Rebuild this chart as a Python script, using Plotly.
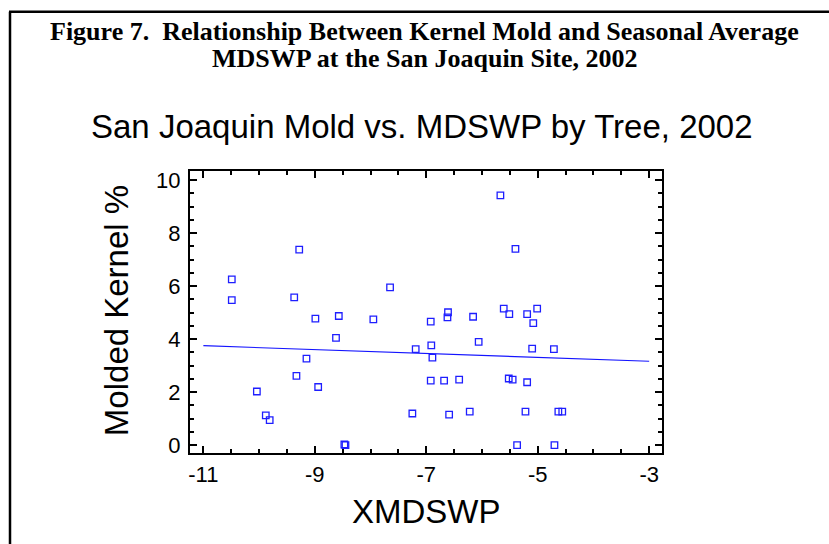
import plotly.graph_objects as go

# ---- data ----
mdswp = [-10.49, -10.49, -9.28, -9.37, -7.65, -8.57, -8.99, -7.95, -8.62, -9.15,
         -9.33, -8.94, -10.04, -9.88, -9.81, -8.47, -8.45, -7.25, -7.19, -5.67,
         -5.40, -6.61, -6.62, -6.92, -6.16, -5.61, -5.51, -5.19, -5.01, -5.08,
         -6.91, -6.89, -6.06, -5.10, -4.71, -6.92, -6.68, -6.41, -5.52, -5.45,
         -5.19, -6.59, -6.22, -5.22, -4.63, -4.56, -5.37, -4.70]
mold_pct = [6.25, 5.47, 7.37, 5.57, 5.95, 4.87, 4.77, 4.74, 4.04, 3.26,
            2.61, 2.19, 2.02, 1.12, 0.94, 0.02, 0.00, 1.19, 3.62, 9.42,
            7.40, 5.01, 4.82, 4.66, 4.84, 5.15, 4.94, 4.94, 5.15, 4.60,
            3.76, 3.30, 3.89, 3.64, 3.62, 2.43, 2.43, 2.47, 2.51, 2.47,
            2.37, 1.15, 1.26, 1.26, 1.26, 1.26, 0.00, 0.00]
fit_x = [-11, -3]
fit_y = [3.75, 3.16]

x_ticks = [-11, -9, -7, -5, -3]
y_ticks = [0, 2, 4, 6, 8, 10]

fig_title_1 = "Figure 7.&nbsp; Relationship Between Kernel Mold and Seasonal Average"
fig_title_2 = "MDSWP at the San Joaquin Site, 2002"
chart_title = "San Joaquin Mold vs. MDSWP by Tree, 2002"
x_title = "XMDSWP"
y_title = "Molded Kernel %"

# ---- layout geometry (pixels) ----
W, H = 829, 544
L, R, T, B = 190, 662, 171, 452.7


def px_x(p):
    return (p - L) / (R - L)


def px_y(p):
    return (B - p) / (B - T)


fig = go.Figure()
fig.add_trace(go.Scatter(
    x=fit_x, y=fit_y, mode="lines",
    line=dict(color="rgb(20,20,255)", width=1.1),
    hoverinfo="skip", showlegend=False))
fig.add_trace(go.Scatter(
    x=mdswp, y=mold_pct, mode="markers",
    marker=dict(symbol="square-open", size=6.5, color="rgb(30,30,255)",
                line=dict(width=1.3, color="rgb(30,30,255)")),
    showlegend=False))

axis_common = dict(
    showgrid=False, zeroline=False,
    showline=True, linecolor="black", linewidth=2, mirror="allticks",
    ticks="inside", ticklen=7, tickwidth=1.5, tickcolor="black",
    tickfont=dict(family="Liberation Sans, Arial", size=22, color="black"),
)

fig.update_xaxes(
    range=[-11.24, -2.77], tickmode="array", tickvals=x_ticks,
    ticktext=[str(v) for v in x_ticks],
    minor=dict(tick0=-11, dtick=0.5, ticks="inside", ticklen=4,
               tickwidth=1.5, tickcolor="black", showgrid=False),
    ticklabelstandoff=1,
    **axis_common)
fig.update_yaxes(
    range=[-0.30, 10.34], tickmode="array", tickvals=y_ticks,
    ticktext=[str(v) for v in y_ticks],
    minor=dict(tick0=0, dtick=0.5, ticks="inside", ticklen=4,
               tickwidth=1.5, tickcolor="black", showgrid=False),
    ticklabelstandoff=3,
    **axis_common)

annotations = [
    dict(text="<b>" + fig_title_1 + "</b>", x=px_x(424), y=px_y(31.5),
         font=dict(family="Liberation Serif, Times New Roman", size=26, color="black")),
    dict(text="<b>" + fig_title_2 + "</b>", x=px_x(424), y=px_y(58.5),
         font=dict(family="Liberation Serif, Times New Roman", size=26, color="black")),
    dict(text=chart_title, x=px_x(422), y=px_y(126.5),
         font=dict(family="Liberation Sans, Arial", size=33, color="black")),
    dict(text=x_title, x=px_x(426), y=px_y(511),
         font=dict(family="Liberation Sans, Arial", size=33, color="black")),
    dict(text=y_title, x=px_x(116), y=px_y(311), textangle=-90,
         font=dict(family="Liberation Sans, Arial", size=33, color="black")),
]
for a in annotations:
    a.update(xref="paper", yref="paper", xanchor="center", yanchor="middle",
             showarrow=False)

shapes = [
    dict(type="line", xref="paper", yref="paper",
         x0=px_x(10), y0=px_y(12), x1=px_x(10), y1=px_y(560),
         line=dict(color="black", width=2.5)),
    dict(type="line", xref="paper", yref="paper",
         x0=px_x(9), y0=px_y(12), x1=px_x(840), y1=px_y(12),
         line=dict(color="black", width=2.5)),
]

fig.update_layout(
    width=W, height=H, autosize=False,
    margin=dict(l=L, r=W - R, t=T, b=H - B, pad=0),
    paper_bgcolor="white", plot_bgcolor="white",
    annotations=annotations, shapes=shapes,
    showlegend=False,
)

fig.write_html("out.html")
